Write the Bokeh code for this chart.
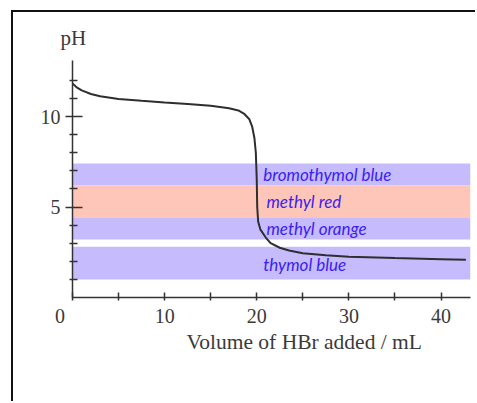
from bokeh.plotting import figure
from bokeh.models import FixedTicker, Label, Range1d, ColumnDataSource, Title
from bokeh.embed import file_html
from bokeh.resources import INLINE

# Titration curve
volume = [0, 0.5, 1, 2, 3, 5, 7.5, 10, 12.5, 15, 17, 18, 18.6, 19.2, 19.5,
          19.75, 19.9, 20.0, 20.05, 20.15, 20.4, 21.0, 21.5, 22.5, 23.5,
          25, 27.5, 30, 35, 40, 42.7]
ph = [11.83, 11.6, 11.45, 11.25, 11.12, 10.97, 10.87, 10.78, 10.7, 10.6,
      10.46, 10.34, 10.17, 9.85, 9.45, 8.8, 8.0, 6.5, 5.0, 4.2, 3.75, 3.3,
      3.0, 2.75, 2.6, 2.45, 2.33, 2.25, 2.18, 2.12, 2.08]

# Indicator ranges
indicators = ["bromothymol blue", "methyl red", "methyl orange", "thymol blue"]
ph_low = [6.2, 4.4, 3.2, 1.0]
ph_high = [7.4, 6.2, 4.4, 2.8]
band_colors = ["#c5bbfd", "#fdc6b9", "#c5bbfd", "#c5bbfd"]

x_major = [0, 10, 20, 30, 40]
x_tick_labels = {0: "0\u00a0\u00a0\u00a0\u00a0\u00a0", 10: "10", 20: "20", 30: "30", 40: "40"}
x_minor = [5, 15, 25, 35]
y_major = [5, 10]
y_minor = [1, 2, 3, 4, 6, 7, 8, 9, 11, 12]

X_END = 43.2
Y_END = 13.1
TEXT = "#3a3a3a"
SERIF = "Liberation Serif"

p = figure(width=464, height=391,
           x_range=Range1d(0, X_END), y_range=Range1d(0, Y_END),
           output_backend="svg", toolbar_location=None,
           min_border_left=59, min_border_top=48,
           min_border_right=7, min_border_bottom=106,
           margin=(10, 0, 0, 11),
           styles={"border-left": "2px solid #111", "border-top": "2px solid #111"})
p.outline_line_color = None
p.xgrid.visible = False
p.ygrid.visible = False

band_src = ColumnDataSource(dict(
    name=indicators, low=ph_low, high=ph_high, color=band_colors,
    left=[0] * len(indicators), right=[X_END] * len(indicators),
))
p.quad(left="left", right="right", bottom="low", top="high",
       fill_color="color", line_color=None, source=band_src)

p.line(volume, ph, line_color="#2e2e2e", line_width=2)

for name, lo, hi in zip(indicators, ph_low, ph_high):
    xoff = 20.7 if "blue" in name else 21.05
    ymid = (lo + hi) / 2 - (0.1 if name == "thymol blue" else 0)
    p.add_layout(Label(x=xoff, y=ymid, text=name, text_baseline="middle",
                       text_align="left", text_font="Lato",
                       text_font_style="italic", text_font_size="17px",
                       text_color="#3b1ef2"))

for ax in (p.xaxis[0], p.yaxis[0]):
    ax.axis_line_color = "#333333"
    ax.axis_line_width = 1.5
    ax.major_tick_line_color = "#333333"
    ax.minor_tick_line_color = "#333333"
    ax.major_tick_line_width = 1.5
    ax.minor_tick_line_width = 1.5
    ax.major_label_text_font = SERIF
    ax.major_label_text_font_size = "20px"
    ax.major_label_text_color = TEXT

p.xaxis.ticker = FixedTicker(ticks=x_major, minor_ticks=x_minor)
p.xaxis.major_label_overrides = x_tick_labels
p.xaxis.major_label_standoff = 4
p.xaxis.major_tick_in = 5
p.xaxis.major_tick_out = 3
p.xaxis.minor_tick_in = 5
p.xaxis.minor_tick_out = 3

p.yaxis.ticker = FixedTicker(ticks=y_major, minor_ticks=y_minor)
p.yaxis.major_tick_in = 10
p.yaxis.major_tick_out = 7
p.yaxis.minor_tick_in = 5
p.yaxis.minor_tick_out = 3

p.add_layout(Title(text="Volume of HBr added / mL", align="left", offset=114,
                   text_font=SERIF, text_font_size="21.5px", text_font_style="normal",
                   text_color=TEXT, standoff=-3), "below")
p.add_layout(Title(text="pH", align="left", offset=-12,
                   text_font=SERIF, text_font_size="21px", text_font_style="normal",
                   text_color=TEXT, standoff=22), "above")

open("out.html", "w").write(file_html(p, INLINE))
